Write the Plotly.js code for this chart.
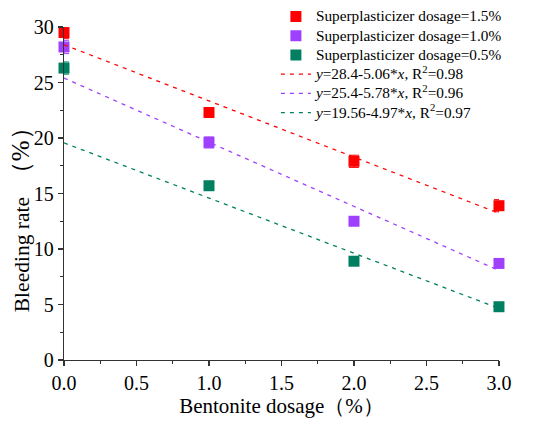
<!DOCTYPE html>
<html><head><meta charset="utf-8">
<script src="https://cdn.plot.ly/plotly-3.0.1.min.js"></script>
<style>html,body{margin:0;padding:0;background:#fff}</style>
</head><body>
<div id="chart" style="width:550px;height:425px"></div>
<script>
var bentonite = [0, 1, 2, 3];
var seriesNames = ['Superplasticizer dosage=1.5%', 'Superplasticizer dosage=1.0%', 'Superplasticizer dosage=0.5%'];
var bleed15 = [29.5, 22.3, 17.9, 13.9];
var bleed10 = [28.2, 19.6, 12.5, 8.7];
var bleed05 = [26.3, 15.7, 8.9, 4.8];
var err15 = [0.55, 0.4, 0.55, 0.55];
var err10 = [0.6, 0.5, 0.35, 0.3];
var err05 = [0.55, 0.35, 0.25, 0.2];
var fitNames = ['<i>y</i>=28.4-5.06*<i>x</i>, R<sup>2</sup>=0.98',
                '<i>y</i>=25.4-5.78*<i>x</i>, R<sup>2</sup>=0.96',
                '<i>y</i>=19.56-4.97*<i>x</i>, R<sup>2</sup>=0.97'];
var fitIntercept = [28.4, 25.4, 19.56];
var fitSlope = [-5.06, -5.78, -4.97];
var fitX = [0, 3];
var xTitle = 'Bentonite dosage（%）';
var yTitle = 'Bleeding rate\u2002<span style="font-size:25px">（%）</span>';

var colors = ['#ff0000', '#a040ff', '#008060'];
var ys = [bleed15, bleed10, bleed05];
var es = [err15, err10, err05];
function big(s) { return '<span style="font-size:15.3px">' + s + '</span>'; }
var traces = [];
for (var i = 0; i < 3; i++) {
  traces.push({
    x: bentonite, y: ys[i], name: big(seriesNames[i]), type: 'scatter', mode: 'markers',
    marker: {symbol: 'square', size: 11, color: colors[i]},
    error_y: {type: 'data', array: es[i], visible: true, color: colors[i], thickness: 1, width: 5},
    cliponaxis: false
  });
}
for (var j = 0; j < 3; j++) {
  traces.push({
    x: fitX, y: fitX.map(function (v) { return fitIntercept[j] + fitSlope[j] * v; }),
    name: big(fitNames[j]), type: 'scatter', mode: 'lines',
    line: {color: colors[j], dash: '4px,5px', width: 1.3},
    cliponaxis: false
  });
}
var font = '"Liberation Serif", "Times New Roman", serif';
var layout = {
  width: 550, height: 425,
  margin: {l: 64, r: 0, t: 0, b: 65, autoexpand: false},
  paper_bgcolor: '#fff', plot_bgcolor: '#fff',
  font: {family: font, color: '#000'},
  showlegend: true,
  legend: {x: 0.436, y: 0.995, xanchor: 'left', yanchor: 'top', bgcolor: 'rgba(0,0,0,0)',
           font: {size: 12.5, family: font, color: '#000'}, tracegroupgap: 0, itemwidth: 30},
  xaxis: {
    domain: [0, 0.895],
    range: [0, 3], dtick: 0.5, tick0: 0, tickformat: '.1f',
    showgrid: false, zeroline: false, showline: true, linecolor: '#333', linewidth: 1.3,
    ticks: 'outside', ticklen: 5, tickcolor: '#333', tickwidth: 1.2,
    minor: {dtick: 0.25, ticks: 'outside', ticklen: 3, tickcolor: '#333', showgrid: false},
    tickfont: {size: 20, family: font, color: '#000'},
    title: {text: xTitle, font: {size: 21, family: font, color: '#000'}, standoff: 4}
  },
  yaxis: {
    domain: [0, 0.925],
    range: [0, 30], dtick: 5, tick0: 0,
    showgrid: false, zeroline: false, showline: true, linecolor: '#333', linewidth: 1.3,
    ticks: 'outside', ticklen: 5, tickcolor: '#333', tickwidth: 1.2,
    minor: {dtick: 2.5, ticks: 'outside', ticklen: 3, tickcolor: '#333', showgrid: false},
    tickfont: {size: 20, family: font, color: '#000'}
  },
  annotations: [{
    text: yTitle, xref: 'paper', yref: 'paper', x: -0.0905, y: 0.405,
    xanchor: 'center', yanchor: 'middle', textangle: -90, showarrow: false,
    font: {size: 21.5, family: font, color: '#000'}
  }]
};
Plotly.newPlot('chart', traces, layout, {displayModeBar: false, staticPlot: true});
</script>
</body></html>
